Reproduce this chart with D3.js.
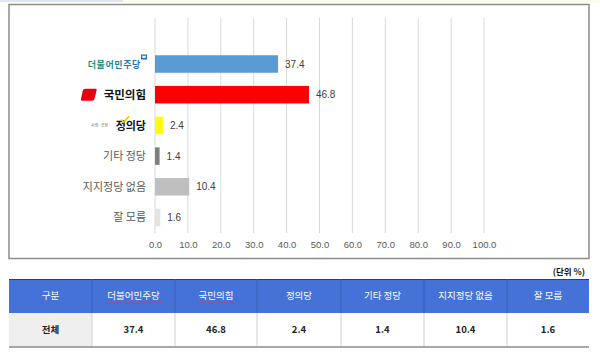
<!DOCTYPE html>
<html><head><meta charset="utf-8">
<script src="https://cdn.jsdelivr.net/npm/d3@7"></script>
<style>
html,body{margin:0;padding:0;background:#fff;}
svg{display:block;font-family:"Noto Sans CJK KR","Malgun Gothic",sans-serif;}
</style></head>
<body><svg id="c" width="600" height="358"></svg>
<script>
const categories = ["더불어민주당","국민의힘","정의당","기타 정당","지지정당 없음","잘 모름"];
const values = [37.4, 46.8, 2.4, 1.4, 10.4, 1.6];
const tickValues = [0,10,20,30,40,50,60,70,80,90,100];
const tableHeader = ["구분","더불어민주당","국민의힘","정의당","기타 정당","지지정당 없음","잘 모름"];
const tableRowLabel = "전체";
const unitLabel = "(단위 %)";

const barColors = ["#5B9BD5","#FF0000","#FFFF00","#7F7F7F","#BFBFBF","#E4E4E4"];

const svg = d3.select("#c");
svg.append("rect").attr("x",0).attr("y",0).attr("width",600).attr("height",3).attr("fill","#fbfbf0");
svg.append("rect").attr("x",0).attr("y",0).attr("width",123).attr("height",2).attr("fill","#dde6f3");

svg.append("rect").attr("x",9).attr("y",4.5).attr("width",580).attr("height",254)
  .attr("fill","#fff").attr("stroke","#8c8c8c").attr("stroke-width",1.5);

const x = d3.scaleLinear().domain([0,100]).range([155,484]);
const y = d3.scaleBand().domain(categories).range([48.65,232.85]).paddingInner(0.43).paddingOuter(0.215);

svg.append("g").selectAll("line").data(tickValues).join("line")
  .attr("x1",d=>x(d)).attr("x2",d=>x(d)).attr("y1",18).attr("y2",233)
  .attr("stroke","#d9d9d9").attr("stroke-width",1);

const ax = svg.append("g").attr("transform","translate(0,233)")
  .call(d3.axisBottom(x).tickValues(tickValues).tickSize(0).tickPadding(8).tickFormat(d=>d.toFixed(1)));
ax.select(".domain").remove();
ax.selectAll("text").attr("fill","#595959").style("font-size","9.5px").style("font-family","'Liberation Sans',Arial,sans-serif");

svg.append("g").selectAll("rect").data(values).join("rect")
  .attr("x",x(0)).attr("y",(d,i)=>y(categories[i]))
  .attr("width",d=>x(d)-x(0)).attr("height",y.bandwidth())
  .attr("fill",(d,i)=>barColors[i]);

svg.append("g").selectAll("text").data(values).join("text")
  .attr("x",d=>x(d)+7).attr("y",(d,i)=>y(categories[i])+y.bandwidth()/2)
  .attr("dy","0.35em").attr("fill","#404040")
  .style("font-size","10px").style("font-family","'Liberation Sans',Arial,sans-serif")
  .text(d=>d.toFixed(1));

const labX = 146;
const cy = i => y(categories[i]) + y.bandwidth()/2;
// 더불어민주당 logo-like
const g0 = svg.append("g");
const grad = svg.append("defs").append("linearGradient").attr("id","dgrad");
grad.append("stop").attr("offset","0%").attr("stop-color","#1a9a6a");
grad.append("stop").attr("offset","100%").attr("stop-color","#1d6fc0");
g0.append("text").attr("x",141).attr("y",cy(0)).attr("dy","0.42em").attr("text-anchor","end")
  .attr("fill","url(#dgrad)").style("font-size","9px").style("font-weight","bold").style("letter-spacing","0.6px").text(categories[0]);
g0.append("rect").attr("x",141).attr("y",cy(0)-9.5).attr("width",6).attr("height",5).attr("fill","#1d6fc0");
g0.append("rect").attr("x",142.3).attr("y",cy(0)-8.3).attr("width",3.4).attr("height",2.2).attr("fill","#fff");
// 국민의힘
const g1 = svg.append("g");
g1.append("path").attr("d",`M${83},${cy(1)-5} Q84,${cy(1)-6} 86,${cy(1)-6} L96,${cy(1)-6} Q97,${cy(1)-6} 96.5,${cy(1)-4} L94.5,${cy(1)+4} Q94,${cy(1)+6} 92,${cy(1)+6} L82,${cy(1)+6} Q80.5,${cy(1)+6} 81,${cy(1)+4} Z`)
  .attr("fill","#e60012");
g1.append("text").attr("x",labX).attr("y",cy(1)).attr("dy","0.36em").attr("text-anchor","end")
  .attr("fill","#111").style("font-size","11.5px").style("font-weight","bold").text(categories[1]);
// 정의당
const g2 = svg.append("g");
g2.append("text").attr("x",108).attr("y",cy(2)).attr("dy","0.35em").attr("text-anchor","end")
  .attr("fill","#777").style("font-size","4px").text("사람·공정");
g2.append("text").attr("x",labX).attr("y",cy(2)).attr("dy","0.38em").attr("text-anchor","end")
  .attr("fill","#111").style("font-size","11px").style("font-weight","bold").text(categories[2]);
g2.append("path").attr("d",`M121,${cy(2)-6} L123.5,${cy(2)-3} L129,${cy(2)-9}`)
  .attr("fill","none").attr("stroke","#f2c200").attr("stroke-width",1.6);
svg.append("g").selectAll("text").data(categories.slice(3)).join("text")
  .attr("x",labX).attr("y",(d,i)=>cy(i+3)).attr("dy","0.36em").attr("text-anchor","end")
  .attr("fill","#595959").style("font-size","11px").text(d=>d);

svg.append("text").attr("x",585).attr("y",275).attr("text-anchor","end")
  .attr("fill","#111").style("font-size","8.5px").style("font-weight","bold").text(unitLabel);

const colX = [9,92,175,257,341,424,507,589];
const hTop = 279, hBot = 313, rBot = 347;
const tg = svg.append("g");
tg.append("rect").attr("x",9).attr("y",hTop).attr("width",580).attr("height",hBot-hTop).attr("fill","#4472D6");
tg.append("line").attr("x1",9).attr("x2",589).attr("y1",hTop+0.5).attr("y2",hTop+0.5).attr("stroke","#1f3f8a").attr("stroke-width",1.2);
tg.append("rect").attr("x",9).attr("y",hBot).attr("width",83).attr("height",rBot-hBot).attr("fill","#efefef");
tg.selectAll("line.hs").data(colX.slice(1,-1)).join("line").attr("class","hs")
  .attr("x1",d=>d).attr("x2",d=>d).attr("y1",hTop).attr("y2",hBot).attr("stroke","#3a5fb5").attr("stroke-width",1);
tg.selectAll("line.rs").data(colX.slice(1,-1)).join("line").attr("class","rs")
  .attr("x1",d=>d).attr("x2",d=>d).attr("y1",hBot).attr("y2",rBot).attr("stroke","#d0d0d0").attr("stroke-width",1);
tg.append("line").attr("x1",9).attr("x2",589).attr("y1",rBot).attr("y2",rBot).attr("stroke","#8c8c8c").attr("stroke-width",1.5);

tg.selectAll("text.h").data(tableHeader).join("text").attr("class","h")
  .attr("x",(d,i)=>(colX[i]+colX[i+1])/2).attr("y",(hTop+hBot)/2).attr("dy","0.36em")
  .attr("text-anchor","middle").attr("fill","#fff").style("font-size","9.5px").text(d=>d);
[1,2].forEach(i=>{
  const cxm=(colX[i]+colX[i+1])/2, w = tableHeader[i].length*9.5;
  let p=`M${cxm-w/2},${(hTop+hBot)/2+7}`;
  for(let k=0;k<w;k+=2){ p+=` L${cxm-w/2+k+1},${(hTop+hBot)/2+(k%4===0?8:6)}`; }
  tg.append("path").attr("d",p).attr("fill","none").attr("stroke","#e0307a").attr("stroke-width",0.8);
});
const rowCells = [tableRowLabel].concat(values.map(v=>v.toFixed(1)));
tg.selectAll("text.r").data(rowCells).join("text").attr("class","r")
  .attr("x",(d,i)=>(colX[i]+colX[i+1])/2).attr("y",(hBot+rBot)/2).attr("dy","0.36em")
  .attr("text-anchor","middle").attr("fill","#222").style("font-size","9.5px").style("font-weight","bold").text(d=>d);
</script></body></html>
